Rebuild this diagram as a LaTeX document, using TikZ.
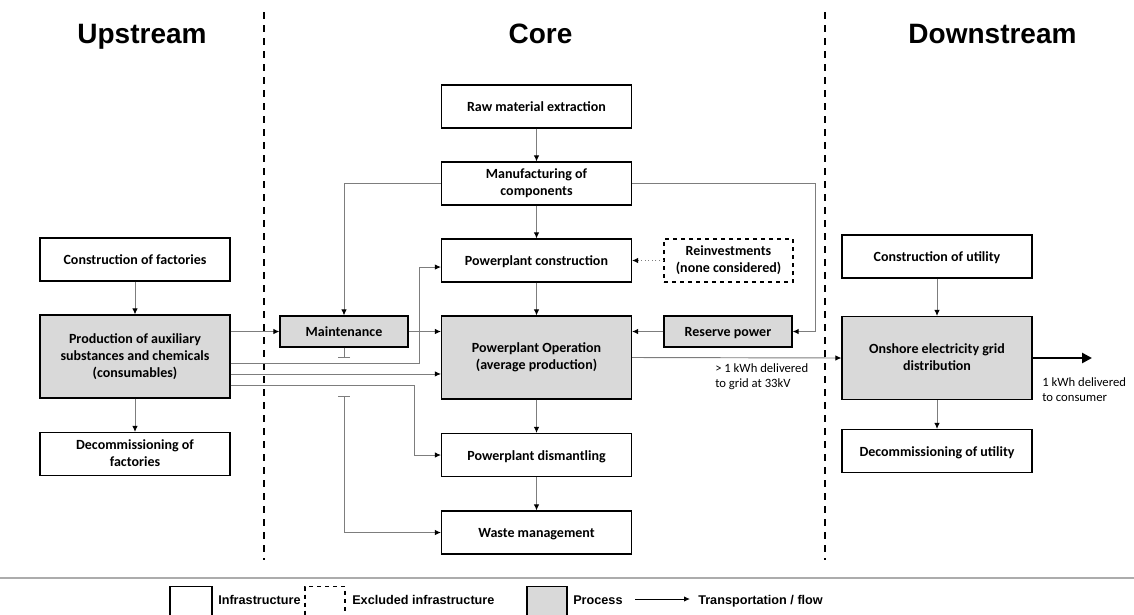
\documentclass[tikz,border=0pt]{standalone}
\usepackage{fontspec}
\setmainfont{Carlito}
\newfontfamily\arialfont{Liberation Sans}
\usetikzlibrary{arrows.meta}
\definecolor{procgray}{RGB}{217,217,217}
\definecolor{linegray}{RGB}{125,125,125}
\newcommand\boxstrut{\rule[-2pt]{0pt}{11.5pt}}
\tikzset{
  box/.style={draw, line width=0.8pt, align=center, inner sep=2pt,
    minimum height=32.25pt, font=\bfseries\fontsize{10.5}{12.8}\selectfont,
    execute at begin node=\boxstrut, execute at end node=\boxstrut},
  infra/.style={box, fill=white},
  excluded/.style={box, dashed},
  proc/.style={box, fill=procgray},
  wbox/.style={minimum width=142.5pt},
  tall/.style={minimum height=62.25pt},
  small/.style={minimum width=96pt, minimum height=23.25pt},
  flow/.style={draw=linegray, line width=0.7pt, -{Latex[black,length=4.5pt,width=4pt]}},
  sep/.style={line width=1.9pt, dash pattern=on 5.25pt off 4.5pt},
  head/.style={font=\arialfont\bfseries\fontsize{21}{25}\selectfont, inner sep=0pt},
  note/.style={font=\fontsize{9.5}{11.3}\selectfont, align=left, anchor=north west, inner sep=0pt},
  legend/.style={font=\arialfont\bfseries\fontsize{9.5}{11}\selectfont, anchor=base west, inner sep=0pt},
}
\begin{document}
\begin{tikzpicture}[x=0.75pt, y=-0.75pt]
  \useasboundingbox (0,0) rectangle (1134,614);
  \clip (0,0) rectangle (1134,614);

  % phase headings and separators
  \node[head, anchor=base] (hup)   at (142,43)   {Upstream};
  \node[head, anchor=base] (hcore) at (540.5,43) {Core};
  \node[head, anchor=base] (hdown) at (992.5,43) {Downstream};
  \draw[sep] (264,12) -- (264,560);
  \draw[sep] (825,12) -- (825,560);

  % upstream
  \node[infra, wbox]       (cfact) at (135,259.5) {Construction of factories};
  \node[proc, wbox, tall]  (prod)  at (135,356.5) {Production of auxiliary\\substances and chemicals\\(consumables)};
  \node[infra, wbox]       (dfact) at (135,454)   {Decommissioning of\\factories};

  % core
  \node[infra, wbox]       (raw)      at (536.5,106.5) {Raw material extraction};
  \node[infra, wbox]       (manuf)    at (536.5,183.5) {Manufacturing of\\components};
  \node[infra, wbox]       (ppconst)  at (536.5,260.5) {Powerplant construction};
  \node[excluded, minimum width=96.75pt] (reinv) at (728.5,260.5) {Reinvestments\\(none considered)};
  \node[proc, wbox, tall]  (oper)     at (536.5,357.5) {Powerplant Operation\\(average production)};
  \node[proc, small]       (maint)    at (344,331.5)   {Maintenance};
  \node[proc, small]       (reserve)  at (728,331.5)   {Reserve power};
  \node[infra, wbox]       (dismant)  at (536.5,455)   {Powerplant dismantling};
  \node[infra, wbox]       (waste)    at (536.5,532.5) {Waste management};

  % downstream
  \node[infra, wbox]       (cutil)   at (937,256.5) {Construction of utility};
  \node[proc, wbox, tall]  (grid)    at (937,358)   {Onshore electricity grid\\distribution};
  \node[infra, wbox]       (dutil)   at (937,451)   {Decommissioning of utility};
  \coordinate (consumer) at (1092,358);

  % flows
  \draw[flow] (cfact) -- (prod);
  \draw[flow] (prod) -- (dfact);
  \draw[flow] (raw) -- (manuf);
  \draw[flow] (manuf) -- (ppconst);
  \draw[flow] (ppconst) -- (oper);
  \draw[flow] (oper) -- (dismant);
  \draw[flow] (dismant) -- (waste);
  \draw[flow] (cutil) -- (grid);
  \draw[flow] (grid) -- (dutil);
  \draw[flow, dotted] (reinv) -- (ppconst);
  \draw[flow] (manuf.west) -| (maint.north);
  \draw[flow] (manuf.east) -| ([xshift=17.25pt]reserve.east) -- (reserve.east);
  \draw[flow] (reserve.west) -- (reserve.west -| oper.east);
  \draw[flow] (maint.east) -- (maint.east -| oper.west);
  \draw[flow] (prod.east |- maint) -- (maint.west);
  \draw[flow] ([yshift=-4.9pt]prod.east) -| ([xshift=-16.5pt,yshift=-4.9pt]ppconst.west) -- ([yshift=-4.9pt]ppconst.west);
  \draw[flow] ([yshift=-13.1pt]prod.east) -- ([yshift=-13.1pt]prod.east -| oper.west);
  \draw[flow] ([yshift=-21.4pt]prod.east) -| ([xshift=-20.25pt]dismant.west) -- (dismant.west);
  \draw[draw=linegray, line width=0.7pt, -{Bar[width=9pt]}] (maint.south) -- ++(0,10);
  \draw[flow, {Bar[width=9pt]}-{Latex[black,length=4.5pt,width=4pt]}] (maint.south |- 0,396) |- (waste.west);
  \draw[flow] (oper.east) -- (grid.west);
  \draw[line width=2.2pt, -{Triangle[length=7.5pt,width=7.5pt]}] (grid.east) -- (consumer);
  \node[note] (gridnote) at (715,363) {> 1 kWh delivered\\to grid at 33kV};
  \node[note] (consnote) at (1042,377) {1 kWh delivered\\to consumer};

  % legend
  \draw[gray!65, line width=1.2pt] (0,578) -- (1134,578);
  \node[infra, minimum width=31.5pt, minimum height=30pt, anchor=north] (keyinfra) at (191,586) {};
  \node[legend] (txtinfra) at (218,604) {Infrastructure};
  \node[excluded, minimum width=30pt, minimum height=30pt, anchor=north] (keyexcl) at (325,586) {};
  \node[legend] (txtexcl) at (352,604) {Excluded infrastructure};
  \node[proc, minimum width=30pt, minimum height=30pt, anchor=north] (keyproc) at (547,586) {};
  \node[legend] (txtproc) at (573,604) {Process};
  \coordinate (keyflowa) at (635,599);
  \coordinate (keyflowb) at (690,599);
  \draw[flow, draw=black] (keyflowa) -- (keyflowb);
  \node[legend] (txtflow) at (698,604) {Transportation / flow};
\end{tikzpicture}
\end{document}
